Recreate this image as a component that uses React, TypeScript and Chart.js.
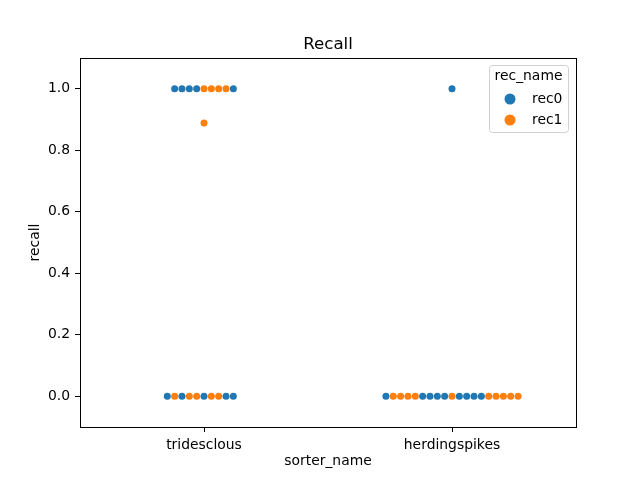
import React, { useEffect, useRef } from "react";
import { Chart, registerables } from "chart.js";
Chart.register(...registerables);

const sorters = ["tridesclous", "herdingspikes"];
const recNames = ["rec0", "rec1"];
const recColors = ["#1f77b4", "#ff7f0e"];
const yTicks = [0, 0.2, 0.4, 0.6, 0.8, 1.0];

// points listed in swarm order (left to right within each recall row)
const tridesclousRecall = [1, 1, 1, 1, 1, 1, 1, 1, 1, 0.889, 0, 0, 0, 0, 0, 0, 0, 0, 0, 0];
const tridesclousRec = [
  "rec0", "rec0", "rec0", "rec0", "rec1", "rec1", "rec1", "rec1", "rec0",
  "rec1",
  "rec0", "rec1", "rec0", "rec1", "rec1", "rec0", "rec1", "rec1", "rec0", "rec0",
];
const herdingspikesRecall = [1, 0, 0, 0, 0, 0, 0, 0, 0, 0, 0, 0, 0, 0, 0, 0, 0, 0, 0, 0];
const herdingspikesRec = [
  "rec0",
  "rec0", "rec1", "rec1", "rec1", "rec1", "rec0", "rec0", "rec0", "rec0", "rec1",
  "rec0", "rec0", "rec0", "rec0", "rec1", "rec1", "rec1", "rec1", "rec1",
];

const FONT = '"DejaVu Sans", sans-serif';
const SWARM_STEP = 0.0296;

type Pt = { x: number; y: number; rec: string };

function swarm(sorterIndex: number, recall: number[], rec: string[]): Pt[] {
  const rows = new Map<number, number[]>();
  recall.forEach((v, i) => {
    if (!rows.has(v)) rows.set(v, []);
    rows.get(v)!.push(i);
  });
  const pts: Pt[] = [];
  rows.forEach((idxs, v) => {
    const n = idxs.length;
    idxs.forEach((pi, k) => {
      pts.push({ x: sorterIndex + (k - Math.floor(n / 2)) * SWARM_STEP, y: v, rec: rec[pi] });
    });
  });
  return pts;
}

const decorPlugin = {
  id: "decor",
  afterDraw(chart: any) {
    const ctx = chart.ctx as CanvasRenderingContext2D;
    const { left, top, right, bottom } = chart.chartArea;
    ctx.save();
    // axes box
    ctx.strokeStyle = "#000";
    ctx.lineWidth = 1;
    ctx.strokeRect(Math.round(left) + 0.5, Math.round(top) + 0.5, Math.round(right - left), Math.round(bottom - top));
    // title
    ctx.fillStyle = "#000";
    ctx.font = `16.67px ${FONT}`;
    ctx.textAlign = "center";
    ctx.textBaseline = "alphabetic";
    ctx.fillText("Recall", (left + right) / 2, 49);
    // legend
    const lx = 489.5, ly = 65.5, lw = 79, lh = 67, r = 3;
    ctx.beginPath();
    ctx.moveTo(lx + r, ly);
    ctx.lineTo(lx + lw - r, ly);
    ctx.arcTo(lx + lw, ly, lx + lw, ly + r, r);
    ctx.lineTo(lx + lw, ly + lh - r);
    ctx.arcTo(lx + lw, ly + lh, lx + lw - r, ly + lh, r);
    ctx.lineTo(lx + r, ly + lh);
    ctx.arcTo(lx, ly + lh, lx, ly + lh - r, r);
    ctx.lineTo(lx, ly + r);
    ctx.arcTo(lx, ly, lx + r, ly, r);
    ctx.closePath();
    ctx.fillStyle = "rgba(255,255,255,0.8)";
    ctx.fill();
    ctx.strokeStyle = "#d0d0d0";
    ctx.stroke();
    ctx.fillStyle = "#000";
    ctx.font = `13.9px ${FONT}`;
    ctx.textAlign = "center";
    ctx.textBaseline = "middle";
    ctx.fillText("rec_name", 528.5, 76);
    recNames.forEach((name, i) => {
      const y = 99 + i * 21;
      ctx.beginPath();
      ctx.arc(510, y, 5.5, 0, Math.PI * 2);
      ctx.fillStyle = recColors[i];
      ctx.fill();
      ctx.fillStyle = "#000";
      ctx.textAlign = "left";
      ctx.fillText(name, 532, y);
    });
    ctx.restore();
  },
};

export default function App() {
  const ref = useRef<HTMLCanvasElement>(null);
  useEffect(() => {
    const all = [
      ...swarm(0, tridesclousRecall, tridesclousRec),
      ...swarm(1, herdingspikesRecall, herdingspikesRec),
    ];
    const tickFont = { family: FONT, size: 13.9 };
    const chart = new Chart(ref.current!, {
      type: "scatter",
      data: {
        datasets: recNames.map((r, i) => ({
          label: r,
          data: all.filter((p) => p.rec === r).map((p) => ({ x: p.x, y: p.y })),
          backgroundColor: recColors[i],
          borderWidth: 0,
          pointRadius: 3.5,
          pointHoverRadius: 3.5,
        })),
      },
      options: {
        responsive: false,
        animation: false,
        devicePixelRatio: 1,
        layout: { padding: { top: 58, right: 64, left: 0, bottom: 0 } },
        plugins: {
          legend: { display: false },
          title: { display: false },
          tooltip: { enabled: false },
        },
        scales: {
          x: {
            type: "linear",
            min: -0.5,
            max: 1.5,
            afterBuildTicks: (s: any) => {
              s.ticks = sorters.map((_, i) => ({ value: i }));
            },
            afterFit: (s: any) => {
              s.height = 53;
            },
            ticks: {
              autoSkip: false,
              maxRotation: 0,
              color: "#000",
              font: tickFont,
              padding: 5,
              callback: (v: any) => sorters[Math.round(Number(v))] ?? "",
            },
            grid: { drawOnChartArea: false, drawTicks: true, tickLength: 5, color: "#000", lineWidth: 1 },
            border: { display: false },
            title: {
              display: true,
              text: "sorter_name",
              color: "#000",
              font: tickFont,
              padding: { top: 0, bottom: 10 },
            },
          },
          y: {
            type: "linear",
            min: -0.1,
            max: 1.1,
            afterBuildTicks: (s: any) => {
              s.ticks = yTicks.map((v) => ({ value: v }));
            },
            afterFit: (s: any) => {
              s.width = 80;
            },
            ticks: {
              autoSkip: false,
              color: "#000",
              font: tickFont,
              padding: 5,
              callback: (v: any) => Number(v).toFixed(1),
            },
            grid: { drawOnChartArea: false, drawTicks: true, tickLength: 5, color: "#000", lineWidth: 1 },
            border: { display: false },
            title: {
              display: true,
              text: "recall",
              color: "#000",
              font: tickFont,
              padding: { top: 27, bottom: 0 },
            },
          },
        },
      } as any,
      plugins: [decorPlugin],
    });
    return () => chart.destroy();
  }, []);
  return (
    <div style={{ position: "absolute", left: 0, top: 0, width: 640, height: 480, background: "#fff" }}>
      <canvas ref={ref} width={640} height={480} style={{ width: 640, height: 480 }} />
    </div>
  );
}
